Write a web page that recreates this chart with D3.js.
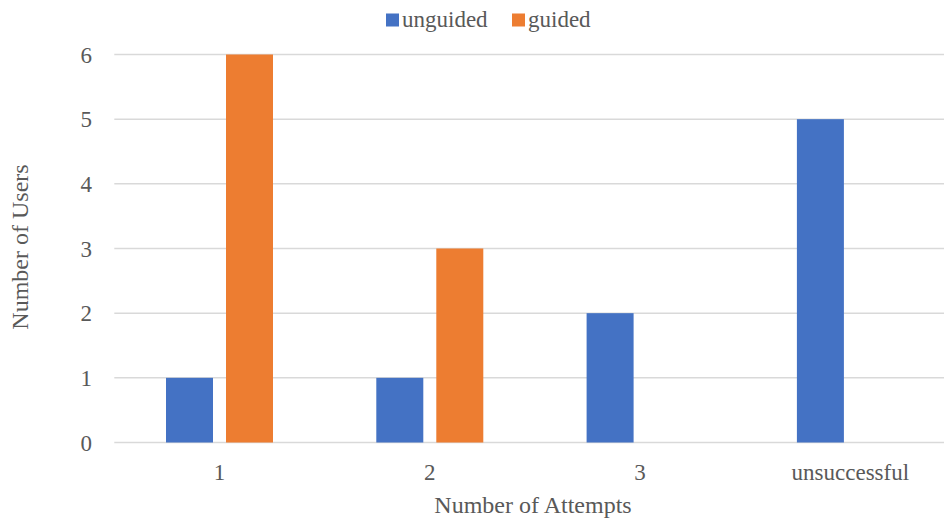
<!DOCTYPE html>
<html>
<head>
<meta charset="utf-8">
<script src="https://cdn.jsdelivr.net/npm/d3@7"></script>
<style>
  html, body { margin: 0; padding: 0; background: #fff; }
  svg { display: block; }
</style>
</head>
<body>
<script>
const categories = ["1", "2", "3", "unsuccessful"];
const seriesNames = ["unguided", "guided"];
const unguided = [1, 1, 2, 5];
const guided = [6, 3, 0, 0];
const yTicks = [0, 1, 2, 3, 4, 5, 6];
const colors = ["#4472C4", "#ED7D31"];

const W = 944, H = 523;
const svg = d3.select("body").append("svg").attr("width", W).attr("height", H)
  .attr("font-family", "'Liberation Serif', 'Times New Roman', Tinos, 'DejaVu Serif', serif")
  .style("font-family", "'Liberation Serif', 'Times New Roman', Tinos, 'DejaVu Serif', serif");
const txtFill = "#595959";

const plotLeft = 114.3, plotRight = 955.5, gridRight = 944;
const y = d3.scaleLinear().domain([0, 6]).range([442.5, 54.5]);
const x0 = d3.scaleBand().domain(categories).range([plotLeft, plotRight]).paddingInner(0).paddingOuter(0);
const bw = x0.bandwidth();
const x1 = d3.scaleBand().domain(seriesNames)
  .range([bw * (51.7 / 210.3), bw * (158.7 / 210.3)])
  .paddingInner(0.2167).paddingOuter(0);

// gridlines
svg.append("g").selectAll("line").data(yTicks).join("line")
  .attr("x1", plotLeft).attr("x2", gridRight)
  .attr("y1", d => y(d)).attr("y2", d => y(d))
  .attr("stroke", "#D9D9D9").attr("stroke-width", 1.5);

// y tick labels
svg.append("g").selectAll("text").data(yTicks).join("text")
  .attr("x", 92).attr("y", d => y(d)).attr("dy", "0.36em")
  .attr("text-anchor", "end").attr("font-size", 23).attr("fill", txtFill)
  .text(d => d);

// bars
const data = categories.map((c, i) => ({ cat: c, vals: [unguided[i], guided[i]] }));
const groups = svg.append("g").selectAll("g").data(data).join("g")
  .attr("transform", d => `translate(${x0(d.cat)},0)`);
groups.selectAll("rect").data(d => d.vals.map((v, j) => ({ key: seriesNames[j], v, j })))
  .join("rect")
  .filter(d => d.v > 0)
  .attr("x", d => x1(d.key)).attr("width", x1.bandwidth())
  .attr("y", d => y(d.v)).attr("height", d => y(0) - y(d.v))
  .attr("fill", d => colors[d.j]);

// x tick labels
svg.append("g").selectAll("text").data(categories).join("text")
  .attr("x", d => x0(d) + bw / 2).attr("y", 480)
  .attr("text-anchor", "middle").attr("font-size", 23).attr("fill", txtFill)
  .text(d => d);

// axis titles
svg.append("text").attr("x", 533).attr("y", 513)
  .attr("text-anchor", "middle").attr("font-size", 24).attr("fill", txtFill)
  .text("Number of Attempts");
svg.append("text").attr("transform", "translate(28,247) rotate(-90)")
  .attr("text-anchor", "middle").attr("font-size", 24).attr("fill", txtFill)
  .text("Number of Users");

// legend
const legend = svg.append("g");
const legX = [386, 512];
seriesNames.forEach((s, i) => {
  legend.append("rect").attr("x", legX[i]).attr("y", 13.5).attr("width", 13).attr("height", 13)
    .attr("fill", colors[i]);
  legend.append("text").attr("x", legX[i] + 16).attr("y", 27)
    .attr("font-size", 23).attr("fill", txtFill).text(s);
});
</script>
</body>
</html>
